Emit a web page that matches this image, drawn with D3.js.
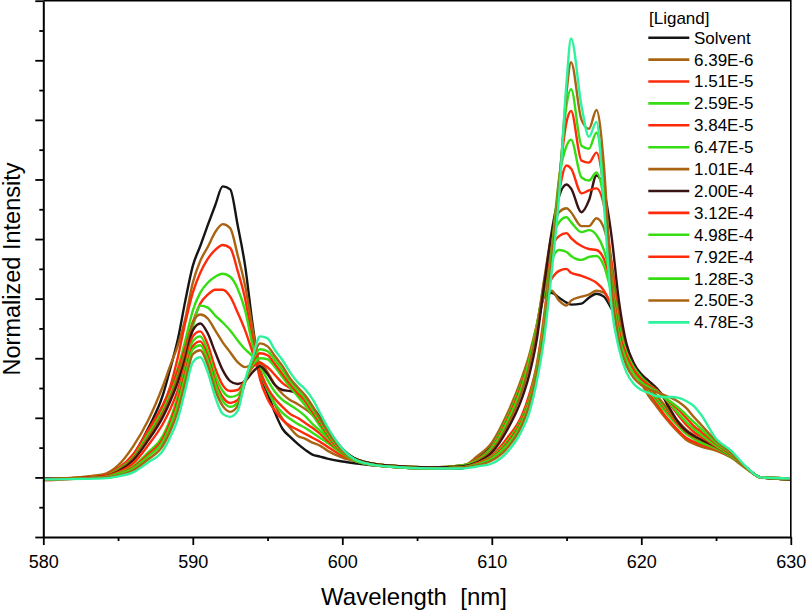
<!DOCTYPE html>
<html>

<head>
  <title>Normalized Intensity vs Wavelength</title>
  <meta charset="utf-8" />
  <style>
    body {
      margin: 0;
      background-color: #ffffff;
    }

    svg text {
      font-family: Arial, 'Liberation Sans', sans-serif;
      fill: #000000;
    }
  </style>
  <script type="text/javascript" src="https://cdnjs.cloudflare.com/ajax/libs/d3/7.8.5/d3.min.js"></script>
</head>

<body>
  <div id="chart"></div>
  <script type="text/javascript">
    // wavelength grid (nm) shared by all spectra
    var wavelength = [580, 584, 585, 586, 587, 588, 588.5, 589, 589.5, 590, 590.5, 591, 591.5, 592, 592.5, 593, 593.5, 594, 594.5, 595,
      595.5, 596, 596.5, 597, 597.5, 598, 598.5, 599, 600, 601, 603, 606, 608, 609, 610, 611, 612, 612.5, 613, 613.5,
      614, 614.5, 615, 615.3, 616, 616.5, 617, 617.5, 618, 618.5, 619, 619.5, 620, 620.5, 621, 621.5, 622, 622.5, 623, 623.5,
      624, 625, 626, 627, 628, 630];

    // normalized intensity, one array per ligand concentration
    var solvent = [-1, 0, 7, 22, 49, 83, 110, 139, 178, 213, 233, 254, 274, 293, 290, 254, 213, 154, 105, 85,
      65, 49, 41, 34, 28, 23, 21, 19, 16, 14, 11, 9, 9, 19, 32, 59, 96, 120, 148, 182,
      186, 181, 176, 174, 175, 181, 185, 182, 170, 156, 133, 113, 103, 97, 90, 80, 65, 53, 45, 41,
      37, 30, 22, 10, 0, -1];
    var c639e6 = [-2, 3, 12, 31, 57, 92, 113, 133, 160, 196, 218, 232, 247, 255, 251, 224, 193, 150, 109, 90,
      73, 59, 50, 42, 39, 35, 32, 27, 20, 16, 12, 10, 11, 21, 35, 63, 100, 123, 153, 186,
      188, 178, 173, 178, 182, 184, 188, 186, 173, 153, 128, 109, 95, 82, 72, 62, 53, 45, 38, 34,
      31, 27, 20, 9, 0, -2];
    var c151e5 = [-3, 1, 9, 22, 47, 72, 92, 121, 156, 186, 206, 220, 229, 234, 231, 208, 180, 138, 99, 79,
      67, 58, 52, 48, 44, 40, 36, 31, 22, 17, 12, 10, 12, 17, 30, 57, 93, 118, 150, 184,
      200, 208, 210, 206, 203, 200, 196, 188, 173, 150, 128, 113, 100, 86, 75, 64, 55, 47, 40, 36,
      33, 28, 21, 10, 0, -2];
    var c259e5 = [-2, 2, 8, 21, 45, 72, 89, 110, 138, 168, 186, 196, 202, 205, 202, 190, 168, 133, 106, 88,
      74, 65, 59, 54, 50, 45, 40, 35, 24, 18, 12, 10, 12, 18, 31, 59, 96, 120, 152, 186,
      218, 229, 227, 223, 219, 222, 223, 213, 186, 153, 128, 112, 100, 88, 78, 68, 59, 51, 44, 39,
      35, 29, 21, 10, 0, -2];
    var c384e5 = [-2, 2, 9, 23, 47, 73, 89, 108, 131, 156, 175, 184, 189, 189, 182, 166, 148, 126, 106, 90,
      79, 71, 64, 60, 55, 50, 44, 37, 25, 18, 12, 10, 12, 18, 30, 57, 94, 120, 152, 193,
      231, 243, 246, 241, 233, 230, 229, 220, 195, 156, 128, 112, 101, 90, 80, 71, 62, 53, 46, 41,
      37, 30, 22, 10, 0, -2];
    var c647e5 = [-2, 1, 8, 20, 43, 67, 84, 103, 126, 152, 173, 171, 163, 156, 148, 138, 129, 122, 112, 98,
      86, 78, 73, 68, 62, 54, 47, 40, 26, 18, 12, 10, 12, 17, 29, 55, 91, 118, 152, 197,
      239, 257, 262, 257, 247, 249, 244, 229, 197, 156, 128, 112, 101, 91, 81, 72, 64, 55, 47, 42,
      37, 30, 22, 10, 0, -2];
    var c101e4 = [-2, 1, 7, 19, 40, 65, 81, 101, 126, 156, 164, 160, 148, 136, 126, 116, 111, 114, 116, 106,
      93, 84, 78, 74, 69, 63, 55, 45, 27, 18, 12, 10, 11, 16, 27, 51, 86, 112, 148, 199,
      244, 267, 271, 267, 253, 253, 261, 251, 217, 164, 131, 114, 102, 92, 83, 74, 64, 56, 48, 43,
      38, 31, 22, 10, 0, -2];
    var c200e4 = [-2, 1, 6, 17, 37, 61, 77, 96, 120, 148, 155, 145, 126, 108, 97, 94, 97, 106, 112, 104,
      93, 88, 87, 85, 80, 71, 61, 49, 29, 18, 12, 10, 11, 15, 25, 47, 79, 103, 138, 193,
      247, 283, 295, 291, 267, 279, 304, 289, 244, 178, 135, 115, 104, 97, 90, 81, 67, 55, 47, 42,
      38, 31, 22, 10, 0, -2];
    var c312e4 = [-2, 1, 5, 14, 32, 54, 69, 88, 114, 142, 147, 134, 110, 93, 87, 88, 98, 111, 115, 111,
      103, 95, 90, 86, 80, 70, 58, 45, 27, 17, 11, 9, 10, 14, 22, 39, 62, 83, 113, 163,
      229, 287, 314, 311, 286, 289, 291, 274, 217, 153, 125, 110, 100, 93, 88, 81, 72, 62, 53, 46,
      41, 31, 22, 10, 0, -1];
    var c498e4 = [-2, 0, 4, 11, 25, 42, 59, 82, 110, 137, 142, 127, 103, 87, 81, 83, 97, 113, 120, 119,
      111, 101, 91, 82, 73, 63, 52, 41, 24, 16, 11, 9, 10, 14, 21, 36, 59, 79, 110, 158,
      227, 301, 334, 340, 302, 299, 307, 279, 208, 153, 126, 111, 101, 94, 88, 81, 73, 64, 56, 49,
      43, 32, 22, 10, 0, -1];
    var c792e4 = [-2, 0, 3, 10, 23, 39, 56, 78, 106, 132, 137, 122, 97, 81, 75, 78, 96, 116, 125, 123,
      114, 104, 94, 85, 77, 66, 55, 43, 25, 16, 11, 9, 10, 14, 20, 34, 57, 77, 108, 156,
      222, 299, 358, 369, 319, 317, 327, 289, 203, 148, 123, 108, 99, 93, 88, 82, 75, 68, 60, 52,
      46, 34, 23, 10, 0, -1];
    var c128e3 = [-2, 0, 3, 9, 21, 36, 52, 73, 102, 129, 133, 118, 94, 77, 71, 75, 96, 118, 129, 127,
      118, 108, 97, 88, 80, 69, 57, 45, 26, 16, 11, 9, 10, 13, 19, 32, 55, 75, 106, 153,
      221, 297, 375, 391, 334, 331, 347, 299, 198, 143, 118, 104, 96, 91, 87, 81, 76, 70, 63, 56,
      49, 35, 24, 10, 0, -1];
    var c250e3 = [-2, 0, 2, 7, 18, 32, 47, 67, 96, 124, 128, 113, 88, 72, 66, 72, 96, 120, 135, 132,
      122, 112, 100, 91, 83, 72, 59, 47, 27, 17, 11, 9, 10, 12, 17, 29, 52, 72, 103, 148,
      217, 291, 388, 418, 360, 351, 370, 314, 193, 138, 113, 100, 93, 89, 86, 83, 80, 76, 70, 61,
      53, 37, 25, 10, 0, -1];
    var c478e3 = [-2, -1, 1, 5, 15, 27, 41, 59, 88, 116, 121, 106, 81, 64, 61, 67, 98, 121, 142, 140,
      128, 118, 106, 96, 89, 79, 65, 51, 29, 17, 11, 9, 9, 11, 14, 25, 47, 65, 96, 140,
      206, 283, 398, 442, 374, 343, 358, 274, 173, 130, 106, 94, 88, 85, 82, 81, 81, 80, 77, 72,
      63, 39, 27, 11, 0, -1];

    var legendLabels = ["Solvent", "6.39E-6", "1.51E-5", "2.59E-5", "3.84E-5", "6.47E-5", "1.01E-4",
      "2.00E-4", "3.12E-4", "4.98E-4", "7.92E-4", "1.28E-3", "2.50E-3", "4.78E-3"];
    var lineColors = ["#151515", "#a86412", "#ff2a0a", "#35dd12", "#ff2a0a", "#35dd12", "#a86412",
      "#3a1414", "#ff2a0a", "#35dd12", "#ff2a0a", "#35dd12", "#a86412", "#2ef29c"];

    var xMajorTicks = [580, 590, 600, 610, 620, 630];
    var xMinorTicks = [585, 595, 605, 615, 625];
    var yMajorTicks = [-60, 0, 60, 120, 180, 240, 300, 360, 420, 480];
    var yMinorTicks = [-30, 30, 90, 150, 210, 270, 330, 390, 450];

    var spectra = [solvent, c639e6, c151e5, c259e5, c384e5, c647e5, c101e4,
      c200e4, c312e4, c498e4, c792e4, c128e3, c250e3, c478e3];

    var w = 807, h = 611;
    var margin = { top: 0.7, right: 16.2, bottom: 74, left: 43.3 };

    var svg = d3.select("#chart")
      .append("svg")
      .attr("width", w)
      .attr("height", h);

    var x = d3.scaleLinear().domain([580, 630]).range([margin.left, w - margin.right]);
    var y = d3.scaleLinear().domain([-60, 480]).range([h - margin.bottom, margin.top]);

    var line = d3.line()
      .x(function (d, i) { return x(wavelength[i]); })
      .y(function (d) { return y(d); })
      .curve(d3.curveMonotoneX);

    // spectra, drawn in legend order so the highest concentration ends up on top
    svg.append("g")
      .selectAll("path")
      .data(spectra)
      .enter()
      .append("path")
      .attr("d", line)
      .attr("fill", "none")
      .attr("stroke", function (d, i) { return lineColors[i]; })
      .attr("stroke-width", 2.4)
      .attr("stroke-linejoin", "round");

    // frame: top and right
    svg.append("path")
      .attr("d", "M" + x(580) + "," + y(480) + "H" + x(630) + "V" + y(-60))
      .attr("fill", "none")
      .attr("stroke", "#000")
      .attr("stroke-width", 1.6);

    // x axis
    var xAxis = svg.append("g")
      .attr("transform", "translate(0," + y(-60) + ")")
      .call(d3.axisBottom(x).tickValues(xMajorTicks).tickSize(8).tickSizeOuter(0).tickPadding(10));
    xAxis.selectAll("text").attr("font-size", "18px").attr("font-family", "Arial, 'Liberation Sans', sans-serif");

    svg.append("g")
      .attr("transform", "translate(0," + y(-60) + ")")
      .call(d3.axisBottom(x).tickValues(xMinorTicks).tickSize(4).tickFormat(""))
      .select(".domain").remove();

    // y axis, ticks only
    var yAxis = svg.append("g")
      .attr("transform", "translate(" + x(580) + ",0)")
      .call(d3.axisLeft(y).tickValues(yMajorTicks).tickSize(8).tickSizeOuter(0).tickFormat(""));

    svg.append("g")
      .attr("transform", "translate(" + x(580) + ",0)")
      .call(d3.axisLeft(y).tickValues(yMinorTicks).tickSize(4).tickFormat(""))
      .select(".domain").remove();

    svg.selectAll(".domain").attr("stroke-width", 2);
    svg.selectAll(".tick line").attr("stroke-width", 1.8);

    // axis titles
    svg.append("text")
      .attr("x", 414)
      .attr("y", 605)
      .attr("text-anchor", "middle")
      .attr("font-size", "24px")
      .style("white-space", "pre")
      .text("Wavelength  [nm]");

    svg.append("text")
      .attr("transform", "rotate(-90)")
      .attr("x", -269)
      .attr("y", 20)
      .attr("text-anchor", "middle")
      .attr("font-size", "23.5px")
      .text("Normalized Intensity");

    // legend
    var legend = svg.append("g");
    legend.append("text")
      .attr("x", 649)
      .attr("y", 23.5)
      .attr("font-size", "17px")
      .text("[Ligand]");

    var rows = legend.selectAll("g.row")
      .data(legendLabels)
      .enter()
      .append("g")
      .attr("class", "row")
      .attr("transform", function (d, i) { return "translate(0," + (37.7 + i * 21.9) + ")"; });

    rows.append("line")
      .attr("x1", 648.3)
      .attr("x2", 689.3)
      .attr("stroke", function (d, i) { return lineColors[i]; })
      .attr("stroke-width", 2.6);

    rows.append("text")
      .attr("x", 694)
      .attr("y", 5.9)
      .attr("font-size", "17px")
      .text(function (d) { return d; });
  </script>
</body>

</html>
